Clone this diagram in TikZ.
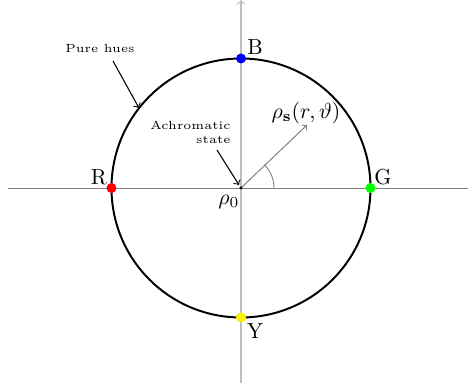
\documentclass[tikz,border=0pt]{standalone}
\usepackage{amsmath}
\usetikzlibrary{calc}
\begin{document}
\begin{tikzpicture}[x=0.016154cm,y=-0.016154cm,
  axisv/.style={gray!50,line width=0.55pt},
  axish/.style={gray,line width=0.45pt},
  huedot/.style={circle,inner sep=0pt,minimum size=4.6pt},
  note/.style={font=\fontsize{5.4}{6.4}\selectfont,align=right,inner sep=0pt},
  lbl/.style={inner sep=0pt}]
\useasboundingbox (0,0) rectangle (468,387);
\coordinate (O) at (241,188);
\coordinate (L) at (8,188);
\coordinate (Rt) at (468,188);
\coordinate (Bot) at (241,383);
\coordinate (Top) at (241,0);
\draw[axish] (L) -- (Rt);
\draw[axisv,->] (Bot) -- (Top);
\draw[line width=0.9pt] (O) circle (129.5);
\coordinate (S) at (307,125);
\draw[gray,->,line width=0.45pt] (O) -- (S);
\draw[gray,line width=0.4pt] ($(O)+(33,0)$) arc[start angle=0,end angle=-45,radius=33];
\node[huedot,fill=red] (R) at (111.5,188) {};
\node[huedot,fill=blue] (B) at (241,58.5) {};
\node[huedot,fill=green] (G) at (370.5,188) {};
\node[huedot,fill=yellow] (Y) at (241,317.5) {};
\fill (O) circle (0.8pt);
\node[lbl] (Rl) at (99,177) {R};
\node[lbl] (Bl) at (255,47) {B};
\node[lbl] (Gl) at (383,177) {G};
\node[lbl] (Yl) at (255,331) {Y};
\node[lbl] (rho0) at (229,202) {$\rho_0$};
\node[lbl] (rhos) at (306,113) {$\rho_{\mathbf{s}}(r,\vartheta)$};
\node[note,anchor=east] (ach) at (231,132) {Achromatic\\state};
\node[note] (pure) at (100,48) {Pure hues};
\coordinate (achEnd) at (239,185);
\coordinate (achStart) at (217,150);
\draw[->,line width=0.5pt] (achStart) -- (achEnd);
\coordinate (pureStart) at (113,61);
\coordinate (pureEnd) at (139,108);
\draw[->,line width=0.5pt] (pureStart) -- (pureEnd);
\end{tikzpicture}
\end{document}
